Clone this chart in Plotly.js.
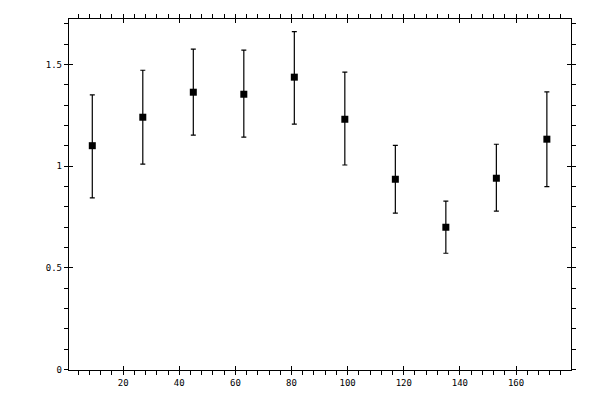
<!DOCTYPE html>
<html>
<head>
<meta charset="utf-8">
<script src="https://cdn.plot.ly/plotly-3.0.1.min.js"></script>
<style>
  html, body { margin: 0; padding: 0; background: #fff; }
  #chart { width: 600px; height: 400px; }
</style>
</head>
<body>
<div id="chart"></div>
<script>
// bin centres (18-wide bins over 0..180)
const angles = [9, 27, 45, 63, 81, 99, 117, 135, 153, 171];
// measured values
const values = [1.10, 1.24, 1.363, 1.353, 1.437, 1.230, 0.935, 0.699, 0.940, 1.132];
// error bars (upper / lower)
const errPlus = [0.250, 0.231, 0.212, 0.217, 0.224, 0.232, 0.167, 0.128, 0.167, 0.233];
const errMinus = [0.257, 0.231, 0.211, 0.211, 0.231, 0.225, 0.167, 0.128, 0.162, 0.233];

const xRange = [0.7, 179.6];
const yRange = [-0.003, 1.723];

const data = [{
    type: 'scatter',
    mode: 'markers',
    x: angles,
    y: values,
    marker: { symbol: 'square', size: 7, color: '#000' },
    error_y: {
        type: 'data',
        symmetric: false,
        array: errPlus,
        arrayminus: errMinus,
        color: '#000',
        thickness: 1.2,
        width: 2.5
    },
    showlegend: false,
    hoverinfo: 'skip'
}, {
    // 空的辅助轨迹，让内侧刻度轴显示出来
    type: 'scatter', mode: 'markers', x: [], y: [],
    xaxis: 'x2', yaxis: 'y2', showlegend: false
}];

const tickFont = { family: 'DejaVu Sans Mono, monospace', size: 9, color: '#000' };

const layout = {
    width: 600,
    height: 400,
    margin: { l: 69, r: 29, t: 19, b: 30, pad: 0 },
    paper_bgcolor: '#fff',
    plot_bgcolor: '#fff',
    showlegend: false,
    xaxis: {
        range: xRange,
        tick0: 0, dtick: 20,
        ticks: 'outside', ticklen: 4, tickwidth: 1, tickcolor: '#000',
        minor: { tick0: 0, dtick: 4, ticks: 'outside', ticklen: 4, tickwidth: 1, tickcolor: '#000', showgrid: false },
        showline: true, linecolor: '#000', linewidth: 1.2,
        mirror: 'allticks',
        showgrid: false, zeroline: false,
        tickfont: tickFont
    },
    yaxis: {
        range: yRange,
        tick0: 0, dtick: 0.5,
        ticks: 'outside', ticklen: 4, tickwidth: 1, tickcolor: '#000',
        minor: { tick0: 0, dtick: 0.1, ticks: 'outside', ticklen: 4, tickwidth: 1, tickcolor: '#000', showgrid: false },
        showline: true, linecolor: '#000', linewidth: 1.2,
        mirror: 'allticks',
        showgrid: false, zeroline: false,
        tickfont: tickFont
    },
    // 内侧主刻度（与外侧刻度组成贯穿刻度）
    xaxis2: {
        overlaying: 'x', matches: 'x', range: xRange,
        tick0: 0, dtick: 20,
        ticks: 'inside', ticklen: 4, tickwidth: 1, tickcolor: '#000',
        mirror: 'ticks', showline: false, showticklabels: false,
        showgrid: false, zeroline: false
    },
    yaxis2: {
        overlaying: 'y', matches: 'y', range: yRange,
        tick0: 0, dtick: 0.5,
        ticks: 'inside', ticklen: 4, tickwidth: 1, tickcolor: '#000',
        mirror: 'ticks', showline: false, showticklabels: false,
        showgrid: false, zeroline: false
    }
};

Plotly.newPlot('chart', data, layout, { displayModeBar: false, staticPlot: true });
</script>
</body>
</html>
